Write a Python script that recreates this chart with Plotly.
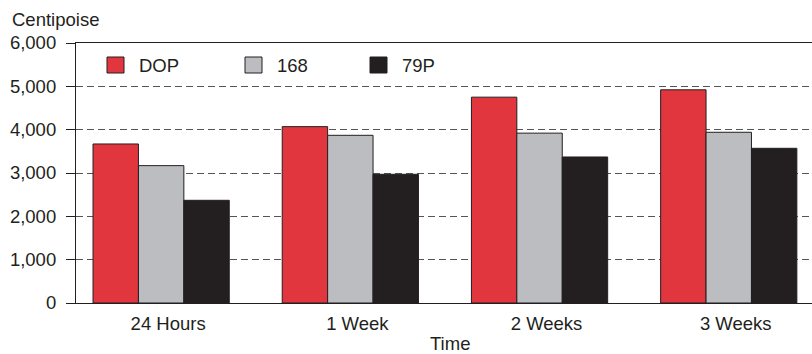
import plotly.graph_objects as go

# Viscosity readings (centipoise) after ageing
categories = ["24 Hours", "1 Week", "2 Weeks", "3 Weeks"]
series_names = ["DOP", "168", "79P"]
dop_values = [3670, 4070, 4750, 4920]
s168_values = [3170, 3870, 3920, 3940]
p79_values = [2370, 2970, 3370, 3570]
y_ticks = [0, 1000, 2000, 3000, 4000, 5000, 6000]

colors = ["#E2363E", "#BCBDC0", "#231F20"]
outline = "#231F20"
font_family = "Liberation Sans, Arial, sans-serif"
font_size = 18.5

W, H = 812, 354
ML, MR, MT, MB = 76, 0, 43, 51
PW, PH = W - ML - MR, H - MT - MB


def px_x(x):
    return (x - ML) / PW


def px_y(y):
    return (H - MB - y) / PH


fig = go.Figure()
for name, vals, col in zip(series_names, [dop_values, s168_values, p79_values], colors):
    fig.add_trace(go.Bar(
        x=categories, y=vals, name=name,
        marker=dict(color=col, line=dict(color=outline, width=1)),
        showlegend=False,
    ))

# Legend row drawn as swatches with labels
legend_left = [107, 245, 370]
for name, col, lx in zip(series_names, colors, legend_left):
    fig.add_shape(type="rect", xref="paper", yref="paper",
                  x0=px_x(lx), x1=px_x(lx + 17), y0=px_y(73), y1=px_y(57),
                  fillcolor=col, line=dict(color=outline, width=1))
    fig.add_annotation(xref="paper", yref="paper", x=px_x(lx + 30), y=px_y(65),
                       text=name, showarrow=False, xanchor="left", yanchor="middle",
                       font=dict(size=font_size, color="#231F20", family=font_family))

fig.add_annotation(xref="paper", yref="paper", x=px_x(10), y=px_y(19),
                   text="Centipoise", showarrow=False, xanchor="left", yanchor="middle",
                   font=dict(size=font_size, color="#231F20", family=font_family))
fig.add_annotation(xref="paper", yref="paper", x=px_x(450), y=px_y(344),
                   text="Time", showarrow=False, xanchor="center", yanchor="middle",
                   font=dict(size=font_size, color="#231F20", family=font_family))

fig.update_layout(
    width=W, height=H,
    margin=dict(l=ML, r=MR, t=MT, b=MB, pad=0),
    paper_bgcolor="white", plot_bgcolor="white",
    barmode="group", bargap=0.28, bargroupgap=0,
    font=dict(family=font_family, size=font_size, color="#231F20"),
)
fig.update_xaxes(
    type="category", range=[-0.45, 3.44],
    showline=True, linecolor=outline, linewidth=1.2, mirror=True,
    ticks="", showgrid=False, ticklabelshift=7, ticklabelstandoff=4,
)
fig.update_yaxes(
    range=[0, 6000], tickvals=y_ticks, tickformat=",d",
    showline=True, linecolor=outline, linewidth=1.2,
    ticks="outside", ticklen=9, tickcolor=outline, tickwidth=1,
    showgrid=True, gridcolor="#555555", gridwidth=1, griddash="7px,4px",
    zeroline=False, ticklabelstandoff=6,
)

fig.write_html("out.html")
